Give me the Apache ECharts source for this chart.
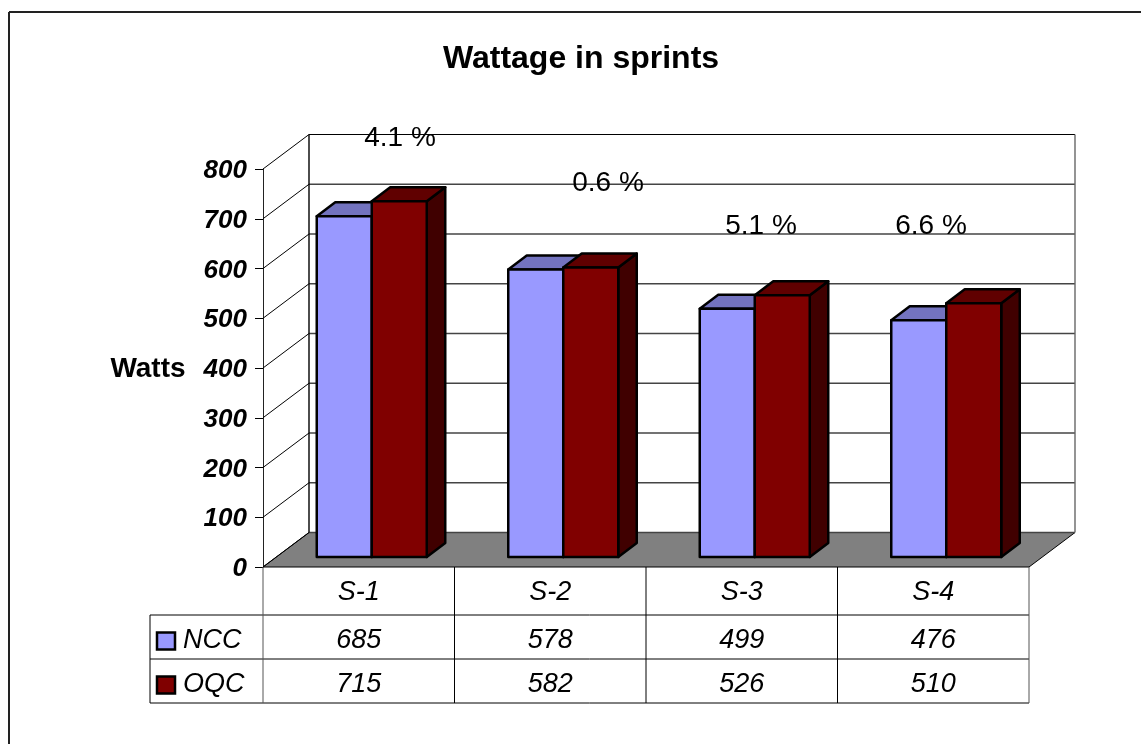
<!DOCTYPE html>
<html>
<head>
<meta charset="utf-8">
<title>Wattage in sprints</title>
<script src="https://cdn.jsdelivr.net/npm/echarts@6/dist/echarts.min.js"></script>
<style>
  html, body { margin: 0; padding: 0; background: #fff; }
  #chart { width: 1141px; height: 744px; }
</style>
</head>
<body>
<div id="chart"></div>
<script>
const categories = ['S-1', 'S-2', 'S-3', 'S-4'];
const ncc = [685, 578, 499, 476];
const oqc = [715, 582, 526, 510];
const yTicks = [0, 100, 200, 300, 400, 500, 600, 700, 800];
const percentLabels = ['4.1 %', '0.6 %', '5.1 %', '6.6 %'];
const percentPos = [[400, 138], [608, 183], [761, 226], [931, 226]];

const FONT = '"Liberation Sans", Arial, sans-serif';
const GRID = { left: 263, top: 169, width: 766, height: 398 };
// 3d look: wall depth, gap of bars from the front edge, bar depth
const WALL = [46, -34.5];
const GAP = [13, -10];
const DEPTH = [18.5, -14];
const BAR_W = 55;
const ROWS = [567, 615, 659, 703];
const TABLE_LEFT = 150;

function shift(p, d) {
  return [p[0] + d[0], p[1] + d[1]];
}

function line(a, b, color, width) {
  return {
    type: 'line',
    shape: { x1: a[0], y1: a[1], x2: b[0], y2: b[1] },
    style: { stroke: color, lineWidth: width || 1 }
  };
}

function poly(points, fill) {
  return {
    type: 'polygon',
    shape: { points: points },
    style: { fill: fill, stroke: '#000', lineWidth: 2.5, lineJoin: 'round' }
  };
}

// back wall, side wall and floor
function renderWall(params, api) {
  const v = api.value(0);
  const cs = params.coordSys;
  const y = api.coord([0, v])[1];
  const a = [cs.x, y];
  const b = shift(a, WALL);
  const c = [b[0] + cs.width, b[1]];
  const children = [];
  if (v === 0) {
    const a2 = [cs.x + cs.width, y];
    children.push({
      type: 'polygon',
      shape: { points: [a, a2, c, b] },
      style: { fill: '#808080', stroke: '#000', lineWidth: 1 }
    });
  }
  children.push(line(a, b, '#000', 1));
  children.push(line(b, c, v === 800 ? '#000' : '#444', v === 800 ? 1 : 1.3));
  if (v === 800) {
    const bottom = api.coord([0, 0])[1];
    children.push(line(b, [b[0], bottom + WALL[1]], '#000', 1.4));
    children.push(line(c, [c[0], bottom + WALL[1]], '#666', 1.4));
  }
  return { type: 'group', children: children };
}

function barRenderer(offset, front, top, side) {
  return function (params, api) {
    const i = api.value(0);
    const p = api.coord([i, api.value(1)]);
    const base = api.coord([i, 0]);
    const x = p[0] + GAP[0] + offset;
    const y1 = p[1] + GAP[1];
    const y0 = base[1] + GAP[1];
    const tl = [x, y1];
    const tr = [x + BAR_W, y1];
    const bl = [x, y0];
    const br = [x + BAR_W, y0];
    return {
      type: 'group',
      children: [
        poly([tr, br, shift(br, DEPTH), shift(tr, DEPTH)], side),
        poly([tl, tr, shift(tr, DEPTH), shift(tl, DEPTH)], top),
        poly([tl, tr, br, bl], front)
      ]
    };
  };
}

function tableGraphic() {
  const els = [];
  const right = GRID.left + GRID.width;
  const colW = GRID.width / categories.length;
  const stroke = { stroke: '#000', lineWidth: 1 };
  const hline = (y, x1, x2) => ({ type: 'line', shape: { x1: x1, y1: y, x2: x2, y2: y }, style: stroke, z: 5 });
  const vline = (x, y1, y2, color) => ({
    type: 'line',
    shape: { x1: x, y1: y1, x2: x, y2: y2 },
    style: { stroke: color || '#000', lineWidth: 1 },
    z: 5
  });
  const text = (t, x, y, align, font) => ({
    type: 'text',
    x: x,
    y: y,
    z: 6,
    style: { text: t, textAlign: align, textVerticalAlign: 'middle', font: font, fill: '#000' }
  });
  const cellFont = 'italic 27px ' + FONT;

  els.push(hline(ROWS[1], TABLE_LEFT, right), hline(ROWS[2], TABLE_LEFT, right), hline(ROWS[3], TABLE_LEFT, right));
  els.push(vline(TABLE_LEFT, ROWS[1], ROWS[3]));
  for (let i = 0; i <= categories.length; i++) {
    els.push(vline(GRID.left + i * colW, ROWS[0], ROWS[3], i === 0 || i === categories.length ? '#555' : '#000'));
  }
  [ncc, oqc].forEach((vals, r) => {
    const mid = (ROWS[r + 1] + ROWS[r + 2]) / 2;
    vals.forEach((v, i) => {
      els.push(text(String(v), GRID.left + (i + 0.5) * colW, mid + 3, 'center', cellFont));
    });
    els.push({
      type: 'rect',
      shape: { x: 157, y: mid - 4.5, width: 18, height: 17 },
      style: { fill: r === 0 ? '#9999ff' : '#800000', stroke: '#000', lineWidth: 2.5 },
      z: 6
    });
    els.push(text(r === 0 ? 'NCC' : 'OQC', 183, mid + 3, 'left', cellFont));
  });

  percentLabels.forEach((t, i) => {
    els.push(text(t, percentPos[i][0], percentPos[i][1], 'center', '28px ' + FONT));
  });
  els.push(text('Watts', 148, 369, 'center', 'bold 28px ' + FONT));
  // the frame only shows on its top and left side
  els.push(
    { type: 'line', shape: { x1: 9, y1: 12, x2: 1141, y2: 12 }, style: { stroke: '#222', lineWidth: 2 }, z: 0 },
    { type: 'line', shape: { x1: 9, y1: 12, x2: 9, y2: 744 }, style: { stroke: '#222', lineWidth: 2 }, z: 0 }
  );
  return els;
}

const chart = echarts.init(document.getElementById('chart'));

chart.setOption({
  animation: false,
  backgroundColor: '#fff',
  title: {
    text: 'Wattage in sprints',
    left: 576,
    top: 38,
    textAlign: 'center',
    textStyle: { fontFamily: FONT, fontSize: 32, fontWeight: 'bold', color: '#000' }
  },
  grid: GRID,
  xAxis: {
    type: 'category',
    data: categories,
    axisLine: { show: false },
    axisTick: { show: false },
    axisLabel: {
      margin: 12,
      fontFamily: FONT,
      fontSize: 27,
      fontStyle: 'italic',
      color: '#000'
    }
  },
  yAxis: {
    type: 'value',
    min: 0,
    max: 800,
    interval: 100,
    splitLine: { show: false },
    axisLine: { show: true, lineStyle: { color: '#222', width: 1 } },
    axisTick: { show: true, length: 8, lineStyle: { color: '#000', width: 1 } },
    axisLabel: {
      margin: 16,
      verticalAlign: 'top',
      padding: [-11, 0, 0, 0],
      fontFamily: FONT,
      fontSize: 26,
      fontStyle: 'italic',
      fontWeight: 'bold',
      color: '#000'
    }
  },
  graphic: tableGraphic(),
  series: [
    {
      name: 'walls',
      type: 'custom',
      z: 1,
      silent: true,
      renderItem: renderWall,
      encode: { y: 0 },
      data: yTicks.map(v => [v])
    },
    {
      name: 'NCC',
      type: 'custom',
      z: 2,
      renderItem: barRenderer(-BAR_W, '#9999ff', '#7373bf', '#4d4d80'),
      encode: { x: 0, y: 1 },
      data: ncc.map((v, i) => [i, v])
    },
    {
      name: 'OQC',
      type: 'custom',
      z: 3,
      renderItem: barRenderer(0, '#800000', '#600000', '#400000'),
      encode: { x: 0, y: 1 },
      data: oqc.map((v, i) => [i, v])
    }
  ]
});
</script>
</body>
</html>
